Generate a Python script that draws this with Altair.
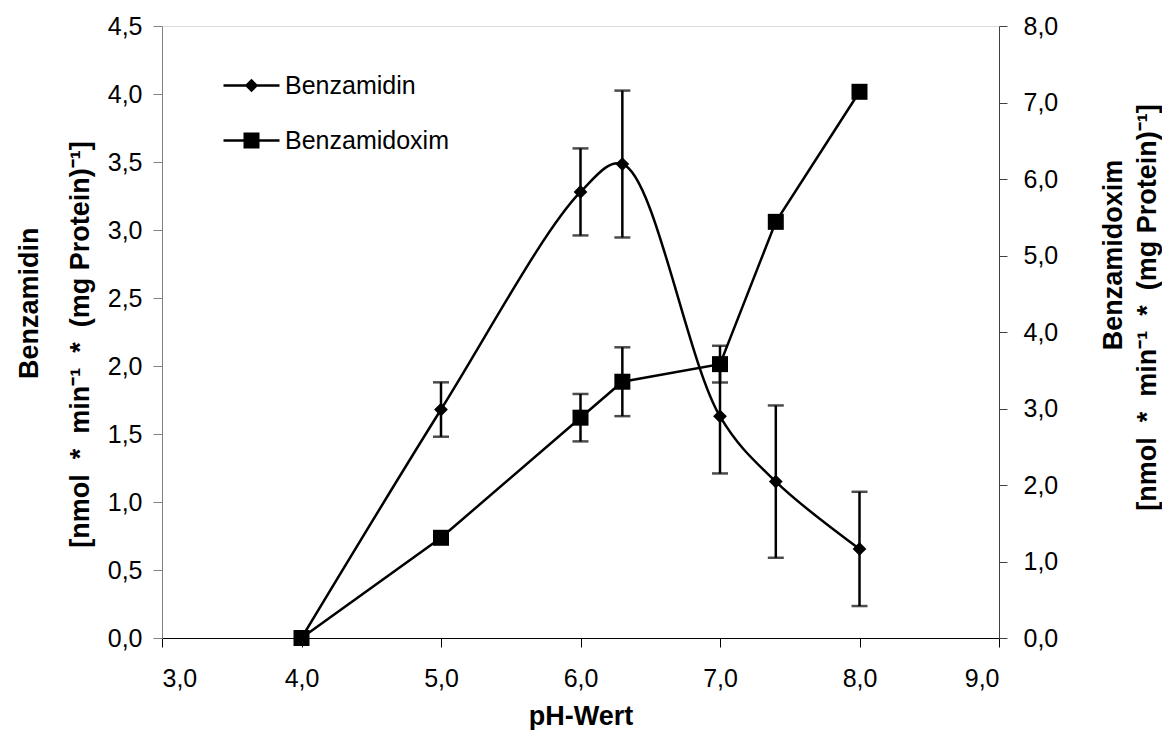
import altair as alt
import pandas as pd

# ---- data ----
ph = [4.0, 5.0, 6.0, 6.3, 7.0, 7.4, 8.0]
benzamidin = [0.0, 1.68, 3.28, 3.485, 1.63, 1.15, 0.655]
benzamidin_sd = [0.0, 0.20, 0.32, 0.54, 0.42, 0.56, 0.42]
benzamidoxim = [0.0, 1.31, 2.88, 3.35, 3.58, 5.44, 7.14]
benzamidoxim_sd = [0.0, 0.0, 0.31, 0.45, 0.24, 0.0, 0.0]
series_names = ["Benzamidin", "Benzamidoxim"]
x_ticks = [3, 4, 5, 6, 7, 8, 9]
left_ticks = [0.0, 0.5, 1.0, 1.5, 2.0, 2.5, 3.0, 3.5, 4.0, 4.5]
right_ticks = [0, 1, 2, 3, 4, 5, 6, 7, 8]
x_title = "pH-Wert"
NB = "\u00a0"
ZW = "\u200b"
SEP = NB * 2 + "*" + NB * 2
unit_line = "[nmol" + SEP + "min\u207b\u00b9" + SEP + "(mg" + NB + "Protein)\u207b\u00b9]"
left_title = [ZW + NB * 11 + "Benzamidin", unit_line]
right_title = [ZW + NB * 14 + "Benzamidoxim", unit_line]

FONT = "Liberation Sans"
COMMA = "replace(format(datum.value, '.1f'), '.', ',')"


def frame(vals, sds, name):
    df = pd.DataFrame({"ph": ph, "val": vals, "sd": sds})
    df["lo"] = df["val"] - df["sd"]
    df["hi"] = df["val"] + df["sd"]
    df["series"] = name
    return df


d1 = frame(benzamidin, benzamidin_sd, series_names[0])
d2 = frame(benzamidoxim, benzamidoxim_sd, series_names[1])

x_axis = alt.Axis(values=x_ticks, labelExpr=COMMA, title=x_title, titleFontSize=27,
                  titleFontWeight="bold", titleY=86, titleBaseline="alphabetic",
                  labelFontSize=25, tickSize=9, labelPadding=19, domainColor="black",
                  tickColor="black", tickWidth=1, domainWidth=1, labelColor="black",
                  titleColor="black", grid=False)
x_enc = alt.X("ph:Q", scale=alt.Scale(domain=[3, 9], nice=False, zero=False), axis=x_axis)

left_axis = alt.Axis(orient="left", values=left_ticks, labelExpr=COMMA, title=left_title,
                     titleFontSize=27, titleFontWeight="bold", titleAngle=270,
                     titleX=-125, titleY=318, titleAlign="center",
                     titleBaseline="alphabetic", titleLineHeight=51,
                     labelFontSize=25, tickSize=9, labelPadding=11,
                     domainColor="#808080", tickColor="#808080", labelColor="black",
                     titleColor="black", grid=False)
right_axis = alt.Axis(orient="right", values=right_ticks, labelExpr=COMMA, title=right_title,
                      titleFontSize=27, titleFontWeight="bold", titleAngle=270,
                      titleX=122, titleY=281, titleAlign="center",
                      titleBaseline="alphabetic", titleLineHeight=34,
                      labelFontSize=25, tickSize=8, labelPadding=16,
                      domainColor="#404040", tickColor="#404040", labelColor="black",
                      titleColor="black", grid=False)

left_scale = alt.Scale(domain=[0, 4.5], nice=False, zero=True)
right_scale = alt.Scale(domain=[0, 8], nice=False, zero=True)

# legend keys: a short line (thin filled bar) with the series marker in the middle
DIAMOND_KEY = "M-5.6,-0.24H5.6V0.24H-5.6ZM0,-1.35L1.35,0L0,1.35L-1.35,0Z"
SQUARE_KEY = "M-5.6,-0.24H5.6V0.24H-5.6ZM-1.6,-1.6H1.6V1.6H-1.6Z"

legend = alt.Legend(
    orient="none", legendX=77, legendY=47, title=None, padding=0,
    labelFont=FONT, labelFontSize=25, labelColor="black", labelOffset=21,
    labelLimit=400, rowPadding=29, symbolSize=100, symbolOpacity=1,
    symbolFillColor="black", symbolStrokeColor="black", symbolStrokeWidth=0,
)
legend_df = pd.DataFrame({"series": series_names, "ph": [ph[0], ph[0]], "val": [benzamidin[0], benzamidin[0]]})
legend_layer = alt.Chart(legend_df).mark_point(filled=True, size=100, opacity=0, color="black").encode(
    x=x_enc, y=alt.Y("val:Q", scale=left_scale, axis=left_axis),
    shape=alt.Shape("series:N", scale=alt.Scale(domain=series_names, range=[DIAMOND_KEY, SQUARE_KEY]),
                    legend=legend))


def series_layer(df, axis, scale, smooth, shape, size):
    y = alt.Y("val:Q", scale=scale, axis=axis)
    base = alt.Chart(df)
    if smooth:
        line = base.mark_line(interpolate="catmull-rom", color="black", strokeWidth=2.5)
    else:
        line = base.mark_line(color="black", strokeWidth=2.5)
    line = line.encode(x=x_enc, y=y)
    err = df[df["sd"] > 0]
    ebase = alt.Chart(err)
    rule = ebase.mark_rule(color="black", strokeWidth=2.5).encode(
        x=x_enc, y=alt.Y("lo:Q", scale=scale, axis=axis), y2="hi:Q")
    cap_lo = ebase.mark_tick(orient="horizontal", color="black", size=16, thickness=2.5).encode(
        x=x_enc, y=alt.Y("lo:Q", scale=scale, axis=axis))
    cap_hi = ebase.mark_tick(orient="horizontal", color="black", size=16, thickness=2.5).encode(
        x=x_enc, y=alt.Y("hi:Q", scale=scale, axis=axis))
    pts = base.mark_point(filled=True, size=size, opacity=1, color="black", shape=shape).encode(
        x=x_enc, y=y)
    return [line, rule, cap_lo, cap_hi, pts]


left_layer = alt.layer(*series_layer(d1, left_axis, left_scale, True, "diamond", 190), legend_layer)
right_layer = alt.layer(*series_layer(d2, right_axis, right_scale, False, "square", 256))

chart = alt.layer(left_layer, right_layer).resolve_scale(y="independent").properties(
    width=837, height=612,
    autosize=alt.AutoSizeParams(type="none"),
    padding={"left": 154, "top": 18, "right": 163, "bottom": 92},
).configure_view(stroke=None).configure_axis(
    grid=False, labelFont=FONT, titleFont=FONT
).configure(background="white")

chart.save("out.html", embed_options={"renderer": "svg", "actions": False})
